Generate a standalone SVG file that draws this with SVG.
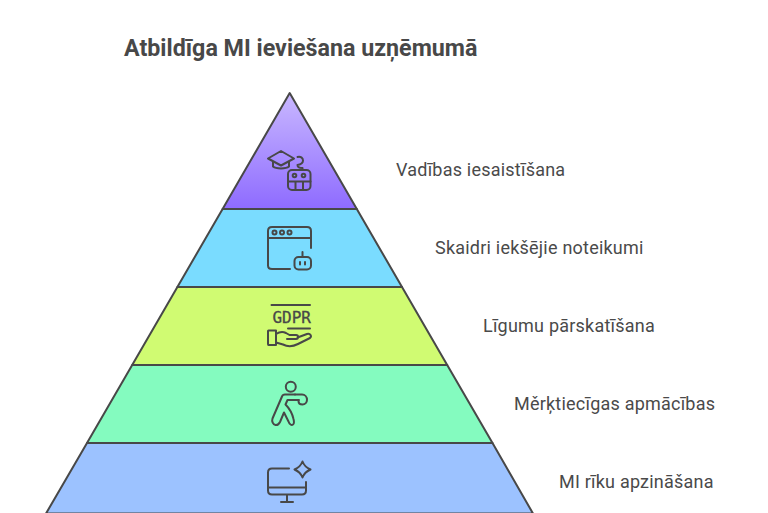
<svg xmlns="http://www.w3.org/2000/svg" width="768" height="513" viewBox="0 0 768 513">
<style>
.t{font-family:Roboto,"Liberation Sans",sans-serif;font-size:18px;fill:#4a4a4a;letter-spacing:.22px}
.s{stroke:#484848;stroke-width:2;stroke-linejoin:round}
.i{fill:none;stroke:#484848;stroke-width:2;stroke-linecap:round;stroke-linejoin:round}
</style>
<defs><linearGradient id="g" x1="0" y1="93" x2="0" y2="209" gradientUnits="userSpaceOnUse"><stop offset="0" stop-color="#c9b8ff"/><stop offset="1" stop-color="#8e6bff"/></linearGradient></defs>
<rect width="768" height="513" fill="#fff"/>
<text x="124" y="56" font-family="Roboto,'Liberation Sans',sans-serif" font-size="23.25" font-weight="700" fill="#484848">Atbildīga MI ieviešana uzņēmumā</text>
<g id="n1">
<path d="M289.700 93L356.800 209H222.600Z" fill="url(#g)" class="s"/>
<path class="i" d="M268 158.500L281 151L294 158.500L281 165.500ZM273 161.500V166.500C276 169 286 169 289 166.500V161.500"/>
<path class="i" d="M297.500 157C300.500 156 303 158 303 160.500C303 163 300 164.500 297.500 165C297.500 167.500 300 168 302.500 168V170"/>
<rect class="i" x="288" y="170" width="22.500" height="20" rx="4"/>
<path class="i" d="M288 181.500H310.500M295.500 181.500V190M303 181.500V190"/>
<circle class="i" cx="294.500" cy="175.500" r="1.800"/><circle class="i" cx="303.500" cy="175.500" r="1.800"/>
<text class="t" x="396" y="176">Vadības iesaistīšana</text>
</g>
<g id="n2">
<path d="M222.600 209H356.800L402 287H177.400Z" fill="#7adcff" class="s"/>
<path class="i" d="M290 269H272C269.500 269 268 267.500 268 265.500V231C268 228.500 269.500 227 272 227H307C309.500 227 311 228.500 311 231V248M268 238H311"/>
<circle class="i" cx="274.500" cy="232.500" r="2"/><circle class="i" cx="282" cy="232.500" r="2"/><circle class="i" cx="289.500" cy="232.500" r="2"/>
<rect class="i" x="294.500" y="257" width="16.500" height="12.500" rx="4"/>
<path class="i" d="M302.500 257V252M300 262V264.500M305 262V264.500"/>
<text class="t" x="435" y="254">Skaidri iekšējie noteikumi</text>
</g>
<g id="n3">
<path d="M177.400 287H402L447.200 365H132.200Z" fill="#d0fb72" class="s"/>
<path class="i" d="M271.500 305H310M288 328.500H310"/>
<text x="272.500" y="322.500" font-family="'DejaVu Sans Mono','Liberation Mono',monospace" font-size="16" stroke="#484848" stroke-width=".3" fill="#484848" textLength="38.500" lengthAdjust="spacing">GDPR</text>
<path class="i" d="M268.500 330.500H276V345H268.500C268 345 268 344.500 268 344V331C268 330.500 268 330.500 268.500 330.500ZM276 334C280 331.500 283 331.500 286 333L289.500 335H296C298.800 335 298.800 339 296 339H287M297.500 337.500L307 334C310.500 333 312 336.500 310 338L298 344C292 347 287 346.500 283 344.500L276 342.500"/>
<text class="t" x="483" y="332">Līgumu pārskatīšana</text>
</g>
<g id="n4">
<path d="M132.200 365H447.200L492.500 443H87Z" fill="#84fbbf" class="s"/>
<circle class="i" cx="290.800" cy="386.800" r="5"/>
<path class="i" d="M295 394.500H285C283.500 394.500 282.500 395 282 396.500L272.500 418.500C271.500 421.500 273 424.500 275.500 425C277.500 425.300 279 424 280 422L284 412.500L288.500 421.500C289.500 424.500 291.500 425.500 293 424.500C294.500 423.500 294 421 293.500 419C292.500 414.500 289 408 285.500 404.500L287.500 400H299"/>
<path class="i" d="M295 394.500H302C305 394.500 307 397 307 399.800C307 402.500 305 404.500 302.500 404.500C300 404.500 298.500 403 298.500 401"/>
<text class="t" x="514" y="410">Měrķtiecīgas apmācības</text>
</g>
<g id="n5">
<path d="M87 443H492.500L533 513.500H46Z" fill="#9cc2ff" class="s"/>
<path class="i" d="M289 468.500H272C269.500 468.500 268 470 268 472.500V490.500C268 493 269.500 494.500 272 494.500H302C304.500 494.500 306 493 306 490.500V482M268 487.500H306M287 494.500V502M281 502H293"/>
<path class="i" d="M302.500 461.500C304 465.500 306 467.500 310.500 469.500C306 471.500 304 473.500 302.500 477.500C301 473.500 299 471.500 294.500 469.500C299 467.500 301 465.500 302.500 461.500Z"/>
<text class="t" x="559" y="488">MI rīku apzināšana</text>
</g>
</svg>
